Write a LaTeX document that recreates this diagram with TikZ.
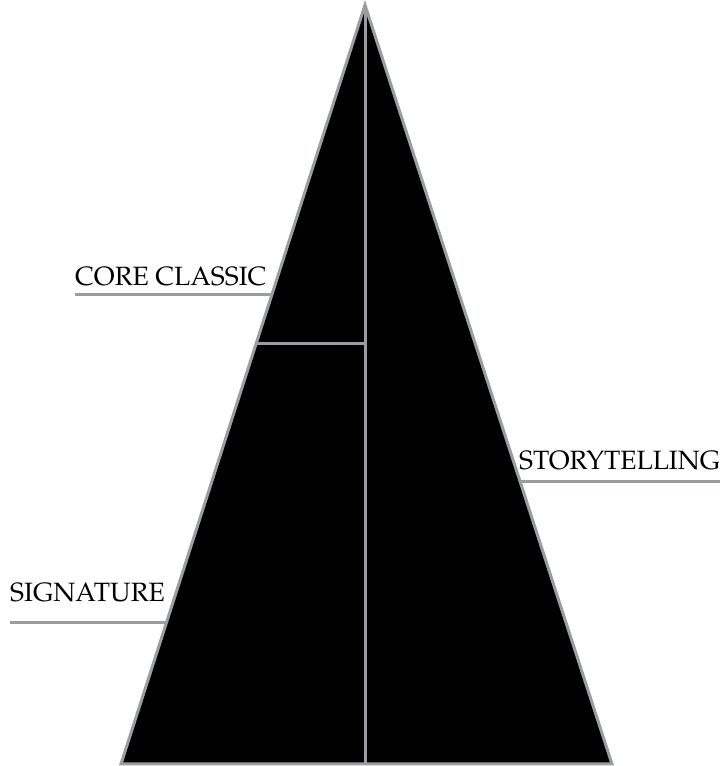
\documentclass[tikz,border=0pt]{standalone}
\usepackage[T1]{fontenc}
\usepackage{mathpazo}
\usepackage{tikz}
\usetikzlibrary{calc}
\definecolor{rulegray}{HTML}{9A9EA3}

\tikzset{
  tier/.style={font=\fontsize{26.5}{30}\selectfont, anchor=base west, inner sep=0pt},
  rule/.style={draw=rulegray, line width=3pt}
}

\begin{document}
\begin{tikzpicture}[x=1pt, y=1pt]
      \useasboundingbox (0,0) rectangle (722,766);

      % the pyramid
      \coordinate (apex) at (365,761);
      \coordinate (bl) at (121,2);
      \coordinate (br) at (612,2);
      \coordinate (mid) at (365,2);
      \filldraw[rule, fill=black, line join=miter] (apex) -- (bl) -- (br) -- cycle;
      \draw[rule] (apex) -- (mid);

      % split of the left half
      \coordinate (cut) at ($(apex)!0.4466!(bl)$);
      \coordinate (cutend) at (cut -| apex);
      \draw[rule] (cut) -- (cutend);

      % labels with their rules
      \coordinate (coreedge) at ($(apex)!0.382!(bl)$);
      \node[tier] (core) at (75,480) {CORE CLASSIC};
      \draw[rule] (core.base west |- coreedge) -- (coreedge);

      \coordinate (storyedge) at ($(apex)!0.628!(br)$);
      \node[tier] (story) at (519,296) {STORYTELLING};
      \draw[rule] (storyedge) -- (story.base east |- storyedge);

      \coordinate (sigedge) at ($(apex)!0.814!(bl)$);
      \node[tier] (sig) at (10,164) {SIGNATURE};
      \draw[rule] (sig.base west |- sigedge) -- (sigedge);
    \end{tikzpicture}
\end{document}
